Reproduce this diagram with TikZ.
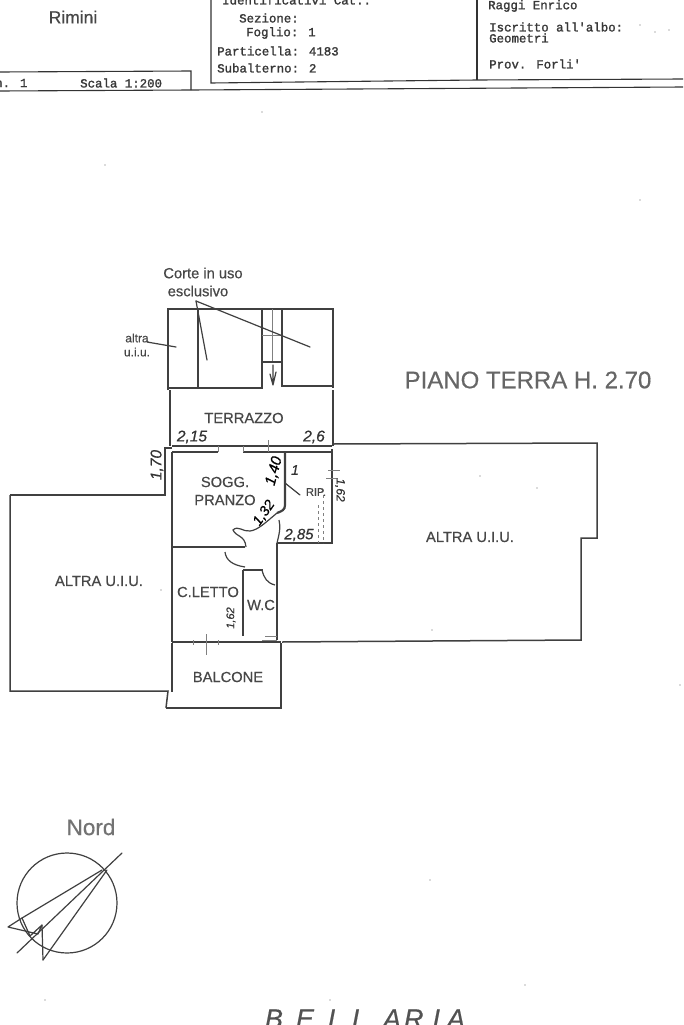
\documentclass[tikz,border=0pt]{standalone}
\usepackage{fontspec}
\setmainfont{Liberation Sans}
\newfontfamily\monofam[FakeBold=1.5]{Liberation Mono}
\newfontfamily\labfam[FakeBold=0.5]{Liberation Sans}
\usetikzlibrary{calc}
\definecolor{ink}{gray}{0.25}
\definecolor{soft}{gray}{0.5}
\tikzset{
  x=1pt,y=-1pt,
  wall/.style={draw=ink,line width=1.5pt},
  thick wall/.style={draw=ink,line width=2.2pt},
  thin wall/.style={draw=soft,line width=1pt},
  door/.style={draw=ink,line width=1.2pt},
  hand/.style={draw=ink,line width=1.2pt,line cap=round,line join=round},
  frame/.style={draw=black!80,line width=1.1pt},
  lab/.style={font=\labfam\fontsize{14.7}{15}\selectfont,text=black!72,inner sep=0pt},
  head/.style={font=\monofam\fontsize{12.4}{13}\selectfont,text=black!78,inner sep=0pt,anchor=west},
  dimtext/.style={font=\labfam\itshape\fontsize{15.5}{16}\selectfont,text=black!80,inner sep=0pt},
  speck/.style={fill=black!60,draw=none}
}
\begin{document}
\begin{tikzpicture}
\useasboundingbox (0,0) rectangle (683,1025);
\begin{scope}
\clip (0,0) rectangle (683,1025);
\fill[white] (0,0) rectangle (683,1025);

% title block
\draw[frame] (0,72) -- (191,71) -- (191,90);
\draw[frame] (0,91) -- (191,90) -- (683,87);
\draw[frame] (211,0) -- (211,83) -- (477,80) -- (683,79);
\draw[frame] (477,0) -- (477,80);
\node[font=\labfam\fontsize{17.5}{18}\selectfont,text=black!72,inner sep=0pt] (comune) at (73,17) {Rimini};
\node[head] (scheda) at (-5,83) {n. 1};
\node[head] (scala) at (80,83) {Scala 1:200};
\node[head] (ident) at (222,0) {Identificativi Cat.:};
\node[head] (sez) at (239,18) {Sezione:};
\node[head] (fog) at (246,33) {Foglio: 1};
\node[head] (part) at (217,51) {Particella: 4183};
\node[head] (sub) at (217,68) {Subalterno: 2};
\node[head] (ragg) at (488,6) {Raggi Enrico};
\node[head] (isc) at (489,27) {Iscritto all'albo:};
\node[head] (geo) at (489,38) {Geometri};
\node[head] (prov) at (489,64) {Prov. Forli'};

% court
\draw[wall] (168,390) -- (168,309) -- (333,309) -- (333,388);
\draw[wall] (168,388) -- (262,388) -- (262,309);
\draw[wall] (282,309) -- (282,386) -- (333,386);
\draw[wall] (198,309) -- (198,388);
\draw[thin wall] (272,309) -- (272,362);
\draw[thin wall] (262,335) -- (282,335);
\draw[wall] (262,362) -- (282,362);
\draw[hand] (273,365) -- (273,385) (270,374) -- (273,385) -- (276,372);
\draw[hand] (196,301) -- (310,347);
\draw[hand] (196,301) -- (207,360);
\draw[hand] (147,342) -- (176,347);

% terrace
\draw[wall] (170,390) -- (170,446);
\draw[wall] (333,390) -- (333,446);

% neighbouring units
\draw[wall] (10,495) -- (165,495) -- (165,448) -- (172,448);
\draw[wall] (10,495) -- (10,691) -- (168,691) -- (166,708);
\draw[thick wall] (166,708) -- (282,708);
\draw[wall] (333,444) -- (597,443) -- (597,538) -- (581,538) -- (581,640) -- (282,642);

% flat
\draw[thick wall] (172,452) -- (218,452) (243,452) -- (332,452);
\draw[wall] (172,446) -- (332,446);
\draw[wall] (172,452) -- (172,642);
\draw[wall] (332,449) -- (332,543) -- (277,543);
\draw[wall] (277,543) -- (277,640);
\draw[wall] (172,547) -- (245,547);
\draw[thick wall] (243,570) -- (243,636);
\draw[wall] (243,570) -- (263,570);
\draw[thick wall] (285,452) -- (285,505) .. controls (285,510) and (282,511) .. (277,513);
\draw[wall] (172,642) -- (281,642);
\draw[wall] (172,643) -- (172,692);
\draw[wall] (281,643) -- (281,708);
\draw[thin wall] (218,446) -- (218,452) (243,446) -- (243,452) (268,440) -- (268,452);
\draw[thin wall] (206,634) -- (206,655) (193,640) -- (193,645) (218,640) -- (218,645);
% doors
\draw[door] (277,513) .. controls (265,523) and (258,530) .. (250,531) .. controls (243,532) and (238,525) .. (233,530) .. controls (236,537) and (245,535) .. (246,547);
\draw[door] (225,552) .. controls (226,560) and (232,565) .. (245,567);
\draw[door] (262,570) .. controls (264,578) and (267,583) .. (275,585);
\draw[door] (279,520) .. controls (281,527) and (279,535) .. (277,543);
\draw[thin wall,dashed] (318,505) -- (318,543);
\draw[thin wall,dashed] (323,495) -- (323,543);
\draw[thin wall] (262,640) -- (277,640);
\draw[thin wall] (265,636) -- (277,636);
% dimension marks
\draw[hand] (285,483) -- (300,495);
\draw[thin wall] (328,470) -- (340,470) (326,478) -- (338,478);

% labels
\node[lab] (corte) at (203,273) {Corte in uso};
\node[lab] (escl) at (198,291) {esclusivo};
\node[lab,font=\labfam\fontsize{12}{13}\selectfont] (altra) at (137,338) {altra};
\node[lab,font=\labfam\fontsize{12}{13}\selectfont] (uiu) at (137,352) {u.i.u.};
\node[lab,font=\labfam\fontsize{24}{25}\selectfont,text=black!60] (piano) at (528,380) {PIANO TERRA H. 2.70};
\node[lab] (terr) at (244,418) {TERRAZZO};
\node[lab] (sogg) at (225,482) {SOGG.};
\node[lab] (pran) at (225,500) {PRANZO};
\node[lab] (bal) at (228,677) {BALCONE};
\node[lab] (let) at (208,592) {C.LETTO};
\node[lab] (wc) at (261,605) {W.C};
\node[lab,font=\labfam\fontsize{11}{12}\selectfont] (rip) at (316,492) {RIP.};
\node[lab] (aw) at (99,581) {ALTRA U.I.U.};
\node[lab] (ae) at (470,537) {ALTRA U.I.U.};

% handwritten dimensions
\node[dimtext] (d1) at (192,437) {2,15};
\node[dimtext] (d2) at (314,437) {2,6};
\node[dimtext,rotate=90] (d3) at (157,465) {1,70};
\node[dimtext,font=\labfam\itshape\fontsize{15}{16}\selectfont] (d4) at (299,535) {2,85};
\node[dimtext,rotate=90,font=\labfam\itshape\fontsize{11}{12}\selectfont] (d5) at (231,618) {1,62};
\node[dimtext,rotate=75,font=\labfam\itshape\fontsize{15}{16}\selectfont,text=black] (d6) at (274,471) {1,40};
\node[dimtext,rotate=55,font=\labfam\itshape\fontsize{14}{15}\selectfont,text=black] (d7) at (264,513) {1,32};
\node[dimtext,rotate=-90,font=\labfam\itshape\fontsize{12}{13}\selectfont] (d8) at (340,490) {1,62};
\node[dimtext,font=\labfam\itshape\fontsize{14}{15}\selectfont] (d9) at (295,470) {1};

% north symbol
\node[lab,font=\labfam\fontsize{22.5}{23}\selectfont,text=black!55] (nord) at (91,827) {Nord};
\draw[hand] (67,903) circle[radius=50];
\draw[hand] (102,870) -- (22,918);
\draw[hand] (122,853) -- (17,953);
\draw[hand] (107,870) -- (43,960);
\draw[hand] (22,918) -- (8,927) -- (38,934) -- (42,925) -- (30,936) -- (22,918);
\draw[hand] (42,925) -- (43,960);

% locality, cut by the lower edge
\node[font=\labfam\itshape\fontsize{27}{28}\selectfont,text=black!68,inner sep=0pt,anchor=base] (loc) at (365,1028) {B\kern13pt E\kern14pt L\kern9pt L\kern16pt A\kern3pt R\kern9pt I\kern7pt A};

% scan specks
\foreach \px/\py in {262/112,105/165,480/476,537/488,161/590,432/630,680/685,640/25,655/32,669/30,330/1000,525/985,45/1000,640/200,430/880}{
  \fill[speck] (\px,\py) circle[radius=.7];
}
\end{scope}
\end{tikzpicture}
\end{document}
